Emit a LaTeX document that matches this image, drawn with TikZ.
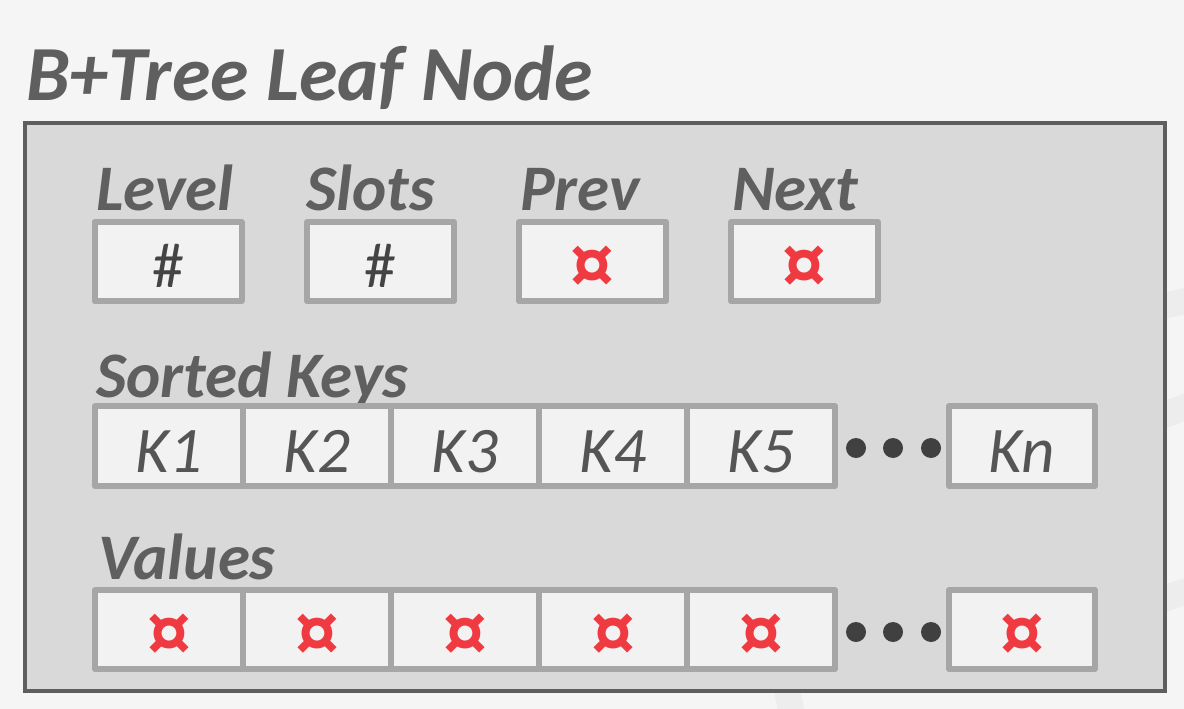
\documentclass[tikz,border=0pt]{standalone}
\usepackage{fontspec}
\setmainfont{Carlito}
\begin{document}
\begin{tikzpicture}[x=1pt,y=-1pt,
  lbl/.style={anchor=base west,inner sep=0pt,text=labelgray,font=\bfseries\itshape\fontsize{65}{68}\selectfont},
  cell/.style={draw=cellgray,fill=cellfill,line width=6pt,line join=round,minimum width=148pt,minimum height=80pt,inner sep=0pt},
  keytxt/.style={anchor=base,inner sep=0pt,text=keygray,font=\itshape\fontsize{65}{68}\selectfont},
  hashtxt/.style={anchor=base,inner sep=0pt,text=hashgray,font=\fontsize{64}{66}\selectfont},
  ptr/.style={anchor=center,inner sep=0pt,text=ptrred,font=\bfseries\fontsize{88}{90}\selectfont},
  dot/.style={circle,fill=dotgray,inner sep=0pt,minimum size=20pt},
  band/.style={draw=bandgray,line width=26pt}]
\definecolor{labelgray}{HTML}{5F5F5F}
\definecolor{keygray}{HTML}{555555}
\definecolor{hashgray}{HTML}{444444}
\definecolor{cellgray}{HTML}{A6A6A6}
\definecolor{cellfill}{HTML}{F2F2F2}
\definecolor{boxfill}{HTML}{D9D9D9}
\definecolor{boxline}{HTML}{5E5E5E}
\definecolor{ptrred}{HTML}{EE3A40}
\definecolor{dotgray}{HTML}{404040}
\definecolor{bgtop}{HTML}{F5F5F5}
\definecolor{bandgray}{HTML}{EDEDED}
\useasboundingbox (0,0) rectangle (1184,709);
\fill[bgtop] (0,0) rectangle (1184,709);
% faint watermark bands
\draw[band] (1100,320) -- (1190,300);
\draw[band] (1100,440) -- (1190,405);
\draw[band] (1100,620) -- (1190,590);
\draw[band] (785,680) -- (792,715);
% title
\node[anchor=base west,inner sep=0pt,text=labelgray,font=\bfseries\itshape\fontsize{78}{80}\selectfont] (title) at (26,100) {B+Tree Leaf Node};
% outer leaf box
\node[draw=boxline,fill=boxfill,line width=4.5pt,minimum width=1140pt,minimum height=568pt,inner sep=0pt] (leaf) at (595,407) {};
% header labels
\node[lbl] (lLevel) at (96,210) {Level};
\node[lbl] (lSlots) at (306,210) {Slots};
\node[lbl] (lPrev) at (520,210) {Prev};
\node[lbl] (lNext) at (732,210) {Next};
% header cells
\node[cell,minimum width=147pt,minimum height=79pt] (level) at (168,261.5) {};
\node[cell,minimum width=147pt,minimum height=79pt] (slots) at (380.5,261.5) {};
\node[cell,minimum width=147pt,minimum height=79pt] (prev) at (592.5,261.5) {};
\node[cell,minimum width=147pt,minimum height=79pt] (next) at (804.5,261.5) {};
\node[hashtxt] (levelv) at (168,287) {\#};
\node[hashtxt] (slotsv) at (380.5,287) {\#};
\node[ptr] (prevv) at (592.5,270) {¤};
\node[ptr] (nextv) at (804.5,270) {¤};
% sorted keys
\node[lbl] (lKeys) at (96,397) {Sorted Keys};
\foreach \i/\x in {1/169,2/317,3/465,4/613,5/761}{
  \node[cell] (k\i) at (\x,446) {};
  \node[keytxt] (k\i t) at (\x,472) {K\i};
}
\node[cell,minimum width=146pt] (kn) at (1022,446) {};
\node[keytxt] (knt) at (1022,472) {Kn};
\node[dot] (kd1) at (856,448) {};
\node[dot] (kd2) at (893,448) {};
\node[dot] (kd3) at (931,448) {};
% values
\node[lbl] (lValues) at (98,579) {Values};
\foreach \i/\x in {1/169,2/317,3/465,4/613,5/761}{
  \node[cell,minimum height=79pt] (v\i) at (\x,629.5) {};
  \node[ptr] (v\i t) at (\x,638) {¤};
}
\node[cell,minimum width=146pt,minimum height=79pt] (vn) at (1022,629.5) {};
\node[ptr] (vnt) at (1022,638) {¤};
\node[dot] (vd1) at (856,632) {};
\node[dot] (vd2) at (893,632) {};
\node[dot] (vd3) at (931,632) {};
\end{tikzpicture}
\end{document}
